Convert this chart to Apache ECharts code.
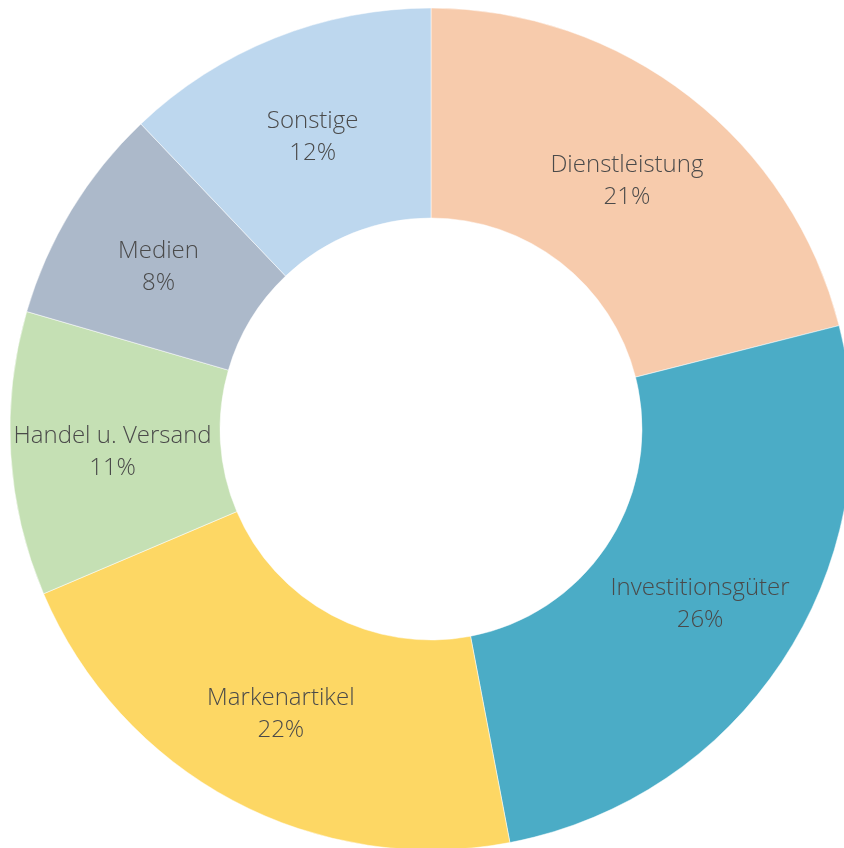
<!DOCTYPE html>
<html>
<head>
<meta charset="utf-8">
<script src="https://cdn.jsdelivr.net/npm/echarts@6/dist/echarts.min.js"></script>
<style>
  html, body { margin: 0; padding: 0; background: #fff; }
  #main { width: 844px; height: 848px; }
</style>
</head>
<body>
<div id="main"></div>
<script>
var categories = ['Dienstleistung', 'Investitionsgüter', 'Markenartikel', 'Handel u. Versand', 'Medien', 'Sonstige'];
var shares = [21.05, 25.95, 21.6, 10.9, 8.4, 12.1];
var colors = ['#F7CBAC', '#4BACC6', '#FDD764', '#C5E0B4', '#ACB9CA', '#BDD7EE'];

var myChart = echarts.init(document.getElementById('main'));

var option = {
    animation: false,
    color: colors,
    series: [
        {
            type: 'pie',
            center: [431, 429],
            radius: [211, 421],
            startAngle: 90,
            clockwise: true,
            itemStyle: {
                borderColor: '#fff',
                borderWidth: 0.5
            },
            label: {
                position: 'inside',
                formatter: function (p) {
                    return p.name + '\n' + Math.round(p.value) + '%';
                },
                color: '#4a4a4a',
                fontFamily: 'Open Sans',
                fontSize: 24,
                fontWeight: 300,
                lineHeight: 32,
                offset: [0, 4]
            },
            labelLine: {show: false},
            data: categories.map(function (name, i) {
                return {name: name, value: shares[i]};
            })
        }
    ]
};

myChart.setOption(option);
</script>
</body>
</html>
